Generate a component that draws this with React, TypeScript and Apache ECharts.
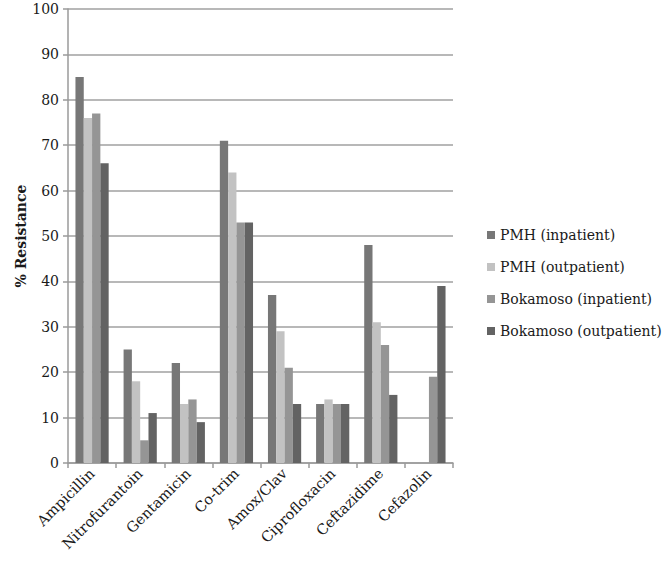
import React, { useEffect, useRef } from "react";
import * as echarts from "echarts";

const categories = ["Ampicillin", "Nitrofurantoin", "Gentamicin", "Co-trim", "Amox/Clav", "Ciprofloxacin", "Ceftazidime", "Cefazolin"];
const pmhInpatient = [85, 25, 22, 71, 37, 13, 48, null];
const pmhOutpatient = [76, 18, 13, 64, 29, 14, 31, null];
const bokInpatient = [77, 5, 14, 53, 21, 13, 26, 19];
const bokOutpatient = [66, 11, 9, 53, 13, 13, 15, 39];
const seriesNames = ["PMH (inpatient)", "PMH (outpatient)", "Bokamoso (inpatient)", "Bokamoso (outpatient)"];
const colors = ["#777777", "#c2c2c2", "#959595", "#636363"];

const FONT = "DejaVu Serif";

export default function App() {
  const ref = useRef<HTMLDivElement>(null);
  useEffect(() => {
    const chart = echarts.init(ref.current!, null, { renderer: "svg" });
    const data = [pmhInpatient, pmhOutpatient, bokInpatient, bokOutpatient];
    chart.setOption({
      animation: false,
      textStyle: { fontFamily: FONT },
      grid: { left: 68, right: 212, top: 9, bottom: 100, containLabel: false },
      legend: {
        orient: "vertical",
        left: 482,
        top: 223,
        itemWidth: 8,
        itemHeight: 8,
        itemGap: 18,
        icon: "rect",
        textStyle: { fontFamily: FONT, fontSize: 14, color: "#1a1a1a" },
        data: seriesNames,
      },
      xAxis: {
        type: "category",
        data: categories,
        axisLine: { lineStyle: { color: "#9a9a9a", width: 1.5 } },
        axisTick: { show: true, length: 5, lineStyle: { color: "#9a9a9a", width: 1.5 } },
        axisLabel: { rotate: 45, fontFamily: FONT, fontSize: 14.5, color: "#1a1a1a", margin: 8, interval: 0 },
      },
      yAxis: {
        type: "value",
        min: 0,
        max: 100,
        interval: 10,
        name: "% Resistance",
        nameLocation: "middle",
        nameGap: 40,
        nameMoveOverlap: false,
        nameTextStyle: { fontFamily: FONT, fontSize: 14, fontWeight: "bold", color: "#1a1a1a" },
        axisLine: { show: true, lineStyle: { color: "#9a9a9a", width: 1.5 } },
        axisTick: { show: true, length: 5, lineStyle: { color: "#9a9a9a", width: 1.5 } },
        axisLabel: { fontFamily: FONT, fontSize: 14, color: "#1a1a1a", margin: 9 },
        splitLine: { lineStyle: { color: "#a0a0a0", width: 1.5 } },
      },
      series: data.map((d, i) => ({
        name: seriesNames[i],
        type: "bar",
        data: d,
        itemStyle: { color: colors[i] },
        barGap: "0%",
        barCategoryGap: "31%",
      })),
    });
    return () => chart.dispose();
  }, []);
  return <div ref={ref} style={{ width: 665, height: 563, position: "absolute", left: 0, top: 0 }} />;
}
